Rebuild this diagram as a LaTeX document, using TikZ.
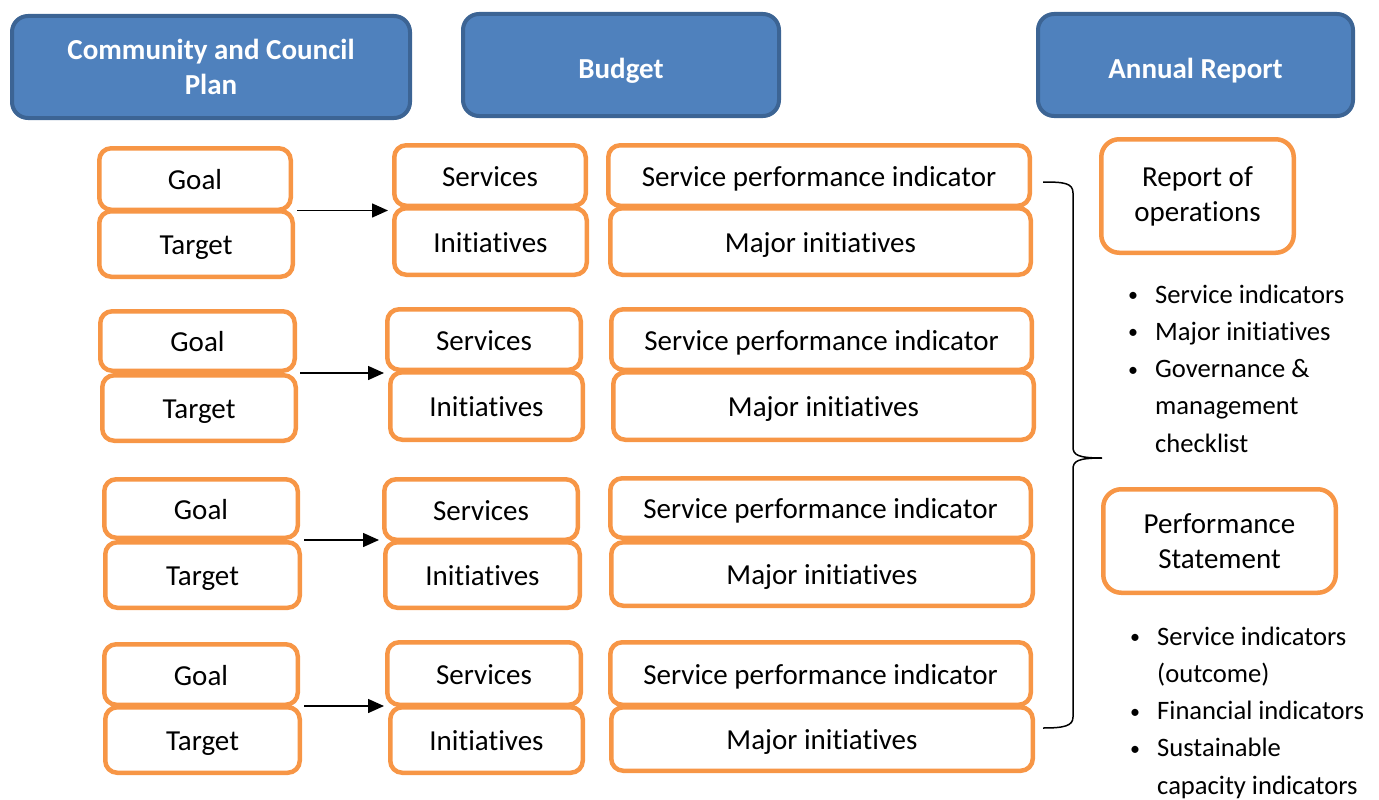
\documentclass[tikz,border=0pt]{standalone}
\usepackage{fontspec}
\setmainfont{Carlito}[Ligatures=NoCommon]
\usetikzlibrary{arrows.meta,calc}
\definecolor{hdrfill}{HTML}{4F81BD}
\definecolor{hdrline}{HTML}{3C6494}
\definecolor{orangec}{HTML}{F79646}
\newcommand\mfont{\fontsize{29}{35}\selectfont}
\newcommand\lfont{\fontsize{26.6}{37.3}\selectfont}
\newcommand\smbul{\makebox[28pt][l]{\hspace{1pt}\raisebox{1.5pt}{\fontsize{20}{20}\selectfont\textbullet}}}
\begin{document}
\begin{tikzpicture}[x=1pt,y=-1pt,
  hdr/.style={draw=hdrline, fill=hdrfill, line width=4pt, rounded corners=16pt,
    text=white, font=\mfont\bfseries, align=center, inner sep=0pt},
  hdrone/.style={hdr, text height=26pt, text depth=0pt},
  obox/.style={draw=orangec, fill=white, line width=4.5pt, rounded corners=12pt,
    font=\mfont, text height=21.5pt, text depth=0pt, inner sep=0pt},
  rbox/.style={draw=orangec, fill=white, line width=4.5pt, rounded corners=18pt,
    font=\mfont, align=center, inner sep=0pt},
  arr/.style={line width=1.5pt, -{Triangle[length=16pt,width=14pt]},
    shorten <=2pt, shorten >=4pt},
  brace/.style={line width=1.5pt},
  blist/.style={font=\lfont, inner sep=0pt, anchor=base west}
]
\useasboundingbox (0,0) rectangle (1379,800);

% headers
\node[hdr, minimum width=398pt, minimum height=102pt] (ccp) at (211,67) {Community and Council\\Plan};
\node[hdrone, minimum width=316pt, minimum height=102pt] (bud) at (621,65) {Budget};
\node[hdrone, minimum width=315pt, minimum height=102pt] (ar) at (1195.5,65) {Annual Report};

% row 1
\node[obox, minimum width=191.5pt, minimum height=61.5pt] (g1) at (195,179) {Goal};
\node[obox, minimum width=193.5pt, minimum height=65.5pt] (t1) at (196,244) {Target};
\node[obox, minimum width=191.5pt, minimum height=60.5pt] (s1) at (490,175.5) {Services};
\node[obox, minimum width=192.5pt, minimum height=66.5pt] (i1) at (490.5,241.5) {Initiatives};
\node[obox, minimum width=421.5pt, minimum height=60.5pt] (p1) at (819,175.5) {Service performance indicator};
\node[obox, minimum width=420.5pt, minimum height=66.5pt] (m1) at (820.5,241.5) {Major initiatives};

% row 2
\node[obox, minimum width=194.5pt, minimum height=59.5pt] (g2) at (197.5,341) {Goal};
\node[obox, minimum width=193.5pt, minimum height=65.5pt] (t2) at (199,408) {Target};
\node[obox, minimum width=193.5pt, minimum height=60.5pt] (s2) at (484,339.5) {Services};
\node[obox, minimum width=192.5pt, minimum height=67.5pt] (i2) at (486.5,406) {Initiatives};
\node[obox, minimum width=420.5pt, minimum height=60.5pt] (p2) at (821.5,339.5) {Service performance indicator};
\node[obox, minimum width=420.5pt, minimum height=67.5pt] (m2) at (823.5,406) {Major initiatives};

% row 3
\node[obox, minimum width=193.5pt, minimum height=58.5pt] (g3) at (201,508.5) {Goal};
\node[obox, minimum width=194.5pt, minimum height=65.5pt] (t3) at (202.5,575) {Target};
\node[obox, minimum width=193.5pt, minimum height=60.5pt] (s3) at (481,509.5) {Services};
\node[obox, minimum width=194.5pt, minimum height=65.5pt] (i3) at (482.5,575) {Initiatives};
\node[obox, minimum width=420.5pt, minimum height=59.5pt] (p3) at (820.5,508) {Service performance indicator};
\node[obox, minimum width=421.5pt, minimum height=63.5pt] (m3) at (822,574) {Major initiatives};

% row 4
\node[obox, minimum width=193.5pt, minimum height=60.5pt] (g4) at (201,674.5) {Goal};
\node[obox, minimum width=194.5pt, minimum height=65.5pt] (t4) at (202.5,740) {Target};
\node[obox, minimum width=193.5pt, minimum height=62.5pt] (s4) at (484,673.5) {Services};
\node[obox, minimum width=192.5pt, minimum height=65.5pt] (i4) at (486.5,740) {Initiatives};
\node[obox, minimum width=420.5pt, minimum height=62.5pt] (p4) at (820.5,673.5) {Service performance indicator};
\node[obox, minimum width=421.5pt, minimum height=63.5pt] (m4) at (822,739) {Major initiatives};

% arrows
\foreach \r in {1,2,3,4}{
  \coordinate (a\r) at ($(g\r.south east)!0.5!(t\r.north east)$);
  \draw[arr] (a\r -| t\r.east) -- (a\r -| i\r.west);
}

% right boxes
\node[rbox, minimum width=192.5pt, minimum height=113.5pt] (rop) at (1197.5,196) {Report of\\operations};
\node[rbox, minimum width=232.5pt, minimum height=103.5pt] (ps) at (1219.5,541) {Performance\\Statement};

% brace
\coordinate (bt) at (1043,182);
\coordinate (bm) at (1102,458);
\coordinate (bb) at (1043,728);
\draw[brace] (bt) .. controls (1064,182) and (1073,183) .. (1073,193)
  -- (1073,447) .. controls (1073,455) and (1078,458) .. (bm)
  .. controls (1078,458) and (1073,461) .. (1073,469)
  -- (1073,717) .. controls (1073,726) and (1064,728) .. (bb);

% bullet lists
\node[blist] (l1) at (1127,303) {\begin{tabular}[t]{@{}l@{}l@{}}\smbul & Service indicators\\ \smbul & Major initiatives\\ \smbul & Governance \&\\ & management\\ & checklist\end{tabular}};
\node[blist] (l2) at (1129,645) {\begin{tabular}[t]{@{}l@{}l@{}}\smbul & Service indicators\\ & (outcome)\\ \smbul & Financial indicators\\ \smbul & Sustainable\\ & capacity indicators\end{tabular}};
\end{tikzpicture}
\end{document}
